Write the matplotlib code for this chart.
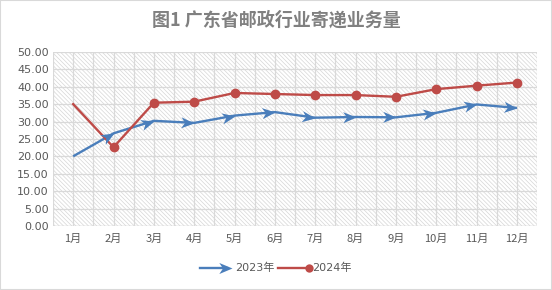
import matplotlib
matplotlib.use("Agg")
import matplotlib.pyplot as plt
from matplotlib.lines import Line2D
from matplotlib.patches import Rectangle
from matplotlib.markers import MarkerStyle
from matplotlib.path import Path
from matplotlib.transforms import Affine2D
from matplotlib.legend_handler import HandlerBase
import numpy as np

plt.rcParams['font.family'] = ['DejaVu Sans', 'Noto Sans CJK SC']
plt.rcParams['hatch.color'] = '#d6d6d6'
plt.rcParams['hatch.linewidth'] = 0.5

title = "图1 广东省邮政行业寄递业务量"
months = ["1月", "2月", "3月", "4月", "5月", "6月", "7月", "8月", "9月", "10月", "11月", "12月"]
series_names = ["2023年", "2024年"]
v2023 = [20.0, 26.6, 30.2, 29.6, 31.7, 32.7, 31.1, 31.3, 31.2, 32.5, 34.9, 33.9]
v2024 = [35.0, 22.6, 35.4, 35.7, 38.2, 37.9, 37.6, 37.6, 37.1, 39.3, 40.3, 41.2]
yticks = [0, 5, 10, 15, 20, 25, 30, 35, 40, 45, 50]

blue = '#4a7ebb'
red = '#be4b48'
tcol = '#595959'

# stealth arrowhead shape (tip at origin, pointing to +x)
STEALTH = Path([(0, 0), (-1, 0.42), (-0.72, 0), (-1, -0.42), (0, 0)],
               [Path.MOVETO, Path.LINETO, Path.LINETO, Path.LINETO, Path.CLOSEPOLY])
ARROW_MS = 19


def arrow_marker(angle):
    return MarkerStyle(STEALTH, transform=Affine2D().rotate(angle))


fig = plt.figure(figsize=(5.52, 2.9), dpi=100)
fig.patches.append(Rectangle((0, 0), 1, 1, transform=fig.transFigure, fill=False,
                             edgecolor='#d9d9d9', linewidth=1.5))
ax = fig.add_axes([0.096, 0.221, 0.877, 0.600])

x = np.arange(len(months))
ax.set_xlim(-0.5, len(months) - 0.5)
ax.set_ylim(0, 50)

# hatched background
ax.add_patch(Rectangle((0, 0), 1, 1, transform=ax.transAxes, facecolor='white',
                       hatch='\\\\\\\\\\\\\\\\', edgecolor='#d6d6d6', linewidth=0, zorder=0))

ax.set_yticks(yticks)
ax.set_yticklabels([f"{v:.2f}" for v in yticks])
ax.set_xticks(x)
ax.set_xticklabels(months, family=['Noto Sans CJK SC'])
ax.set_xticks(np.arange(-0.5, len(months), 1.0), minor=True)
ax.grid(True, which='major', color='#d9d9d9', linewidth=0.9, zorder=1)
ax.grid(True, which='minor', axis='x', color='#d9d9d9', linewidth=0.9, zorder=1)
ax.set_axisbelow(True)
ax.tick_params(axis='both', which='both', length=0, colors=tcol, labelsize=8)
ax.tick_params(axis='y', pad=3)
ax.tick_params(axis='x', pad=6)
for s in ax.spines.values():
    s.set_visible(False)
ax.axhline(0, color='#d9d9d9', linewidth=1, zorder=1)

# 2023 series with arrowheads at each point (oriented along incoming segment)
ax.plot(x, v2023, color=blue, linewidth=1.7, zorder=3, solid_capstyle='butt')
for i in range(1, len(x)):
    p0 = ax.transData.transform((x[i - 1], v2023[i - 1]))
    p1 = ax.transData.transform((x[i], v2023[i]))
    ang = np.arctan2(p1[1] - p0[1], p1[0] - p0[0])
    ax.plot([x[i]], [v2023[i]], linestyle='none', marker=arrow_marker(ang),
            markersize=ARROW_MS, color=blue, markeredgewidth=0, zorder=4)

# 2024 series
ax.plot(x, v2024, color=red, linewidth=1.7, zorder=3)
ax.plot(x[1:], v2024[1:], linestyle='none', marker='o', markersize=6,
        color=red, zorder=4)

fig.text(0.5, 0.93, title, ha='center', va='center', fontsize=13,
         fontweight='bold', color='#808080', family=['Noto Sans CJK SC'])


class EndMarkerHandler(HandlerBase):
    def create_artists(self, legend, orig_handle, xdescent, ydescent, width, height, fontsize, trans):
        y = height / 2 - ydescent
        x0, x1 = -xdescent, -xdescent + width
        line = Line2D([x0, x1 - 3], [y, y], color=orig_handle.get_color(),
                      lw=orig_handle.get_linewidth(), transform=trans)
        mk = Line2D([x1], [y], linestyle='none', marker=orig_handle.get_marker(),
                    markersize=orig_handle.get_markersize(), color=orig_handle.get_color(),
                    markeredgewidth=0, transform=trans)
        return [line, mk]


h1 = Line2D([], [], color=blue, lw=1.7, marker=arrow_marker(0), markersize=ARROW_MS)
h2 = Line2D([], [], color=red, lw=1.7, marker='o', markersize=6)
leg = fig.legend([h1, h2], series_names, loc='center', bbox_to_anchor=(0.5, 0.075),
                 ncol=2, frameon=False,
                 handler_map={h1: EndMarkerHandler(), h2: EndMarkerHandler()},
                 prop={'family': ['DejaVu Sans', 'Noto Sans CJK SC'], 'size': 8},
                 handlelength=2.8, handletextpad=0.3, columnspacing=0.3)
for t in leg.get_texts():
    t.set_color(tcol)

fig.savefig("out.png", dpi=100)
